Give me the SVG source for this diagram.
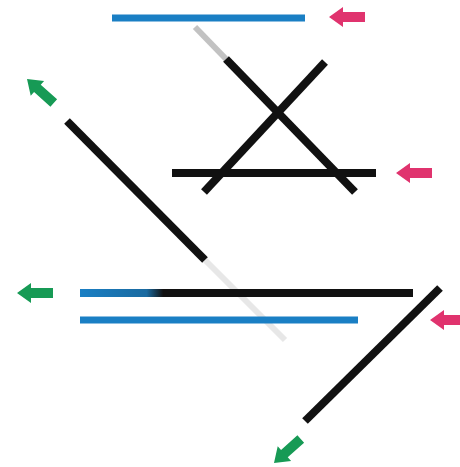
<svg xmlns="http://www.w3.org/2000/svg" width="460" height="467" viewBox="0 0 460 467">
<style>
.blk{stroke:#111;stroke-width:8;stroke-linecap:butt;fill:none}
.blu{stroke:#1a7fc4;stroke-width:7;fill:none}
.gry{stroke:#9a9a9a;stroke-width:6;fill:none;opacity:0.6}
.gry2{stroke:#bbb;stroke-width:6;fill:none;opacity:0.35}
.pink{fill:#e0336e}
.grn{fill:#179a55}
</style>
<defs>
<linearGradient id="g1" x1="80" y1="0" x2="413" y2="0" gradientUnits="userSpaceOnUse">
<stop offset="0" stop-color="#1a7fc4"/><stop offset="0.2" stop-color="#1a6aa0"/><stop offset="0.25" stop-color="#111"/><stop offset="1" stop-color="#111"/>
</linearGradient>
<path id="arr" d="M0,0 L14,-10 L14,-5 L36,-5 L36,5 L14,5 L14,10 Z"/>
</defs>
<rect width="460" height="467" fill="#fff"/>
<g id="connectors">
<line class="blu" x1="112" y1="18" x2="305" y2="18"/>
<line class="gry" x1="195" y1="27" x2="226" y2="59"/>
<line class="blk" x1="226" y1="59" x2="355" y2="192"/>
<line class="blk" x1="325" y1="62" x2="204" y2="192"/>
<line class="blk" x1="172" y1="173" x2="376" y2="173"/>
<line class="blk" x1="67" y1="121" x2="205" y2="260"/>
<line class="gry2" x1="205" y1="260" x2="285" y2="340"/>
<line x1="80" y1="293" x2="413" y2="293" stroke="url(#g1)" stroke-width="8"/>
<line class="blu" x1="80" y1="320" x2="358" y2="320"/>
<line class="blk" x1="440" y1="288" x2="305" y2="421"/>
</g>
<g id="arrow-pink-top"><use href="#arr" class="pink" transform="translate(329,17)"/></g>
<g id="arrow-pink-mid"><use href="#arr" class="pink" transform="translate(396,173)"/></g>
<g id="arrow-pink-bottom"><use href="#arr" class="pink" transform="translate(430,320)"/></g>
<g id="arrow-green-left"><use href="#arr" class="grn" transform="translate(17,293)"/></g>
<g id="arrow-green-topleft"><use href="#arr" class="grn" transform="translate(27,79) rotate(42)"/></g>
<g id="arrow-green-bottom"><use href="#arr" class="grn" transform="translate(274,463) rotate(-42)"/></g>
</svg>
